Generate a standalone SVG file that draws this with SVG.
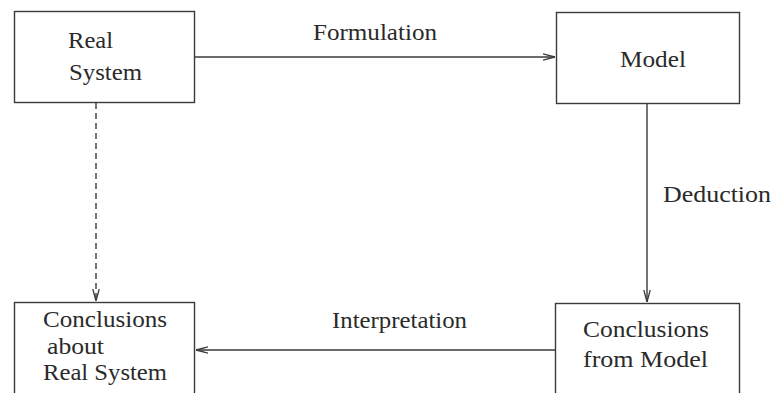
<svg xmlns="http://www.w3.org/2000/svg" width="775" height="393" viewBox="0 0 775 393">
<defs>
<style>
.box{fill:none;stroke:#3a3a3a;stroke-width:1.4}
.ln{fill:none;stroke:#3a3a3a;stroke-width:1.4}
.dash{stroke-dasharray:6 4}
text{font-family:'Liberation Serif','Times New Roman',serif;font-size:24px;fill:#2a2a2a}
</style>
<marker id="ah" viewBox="0 0 12 8" refX="12" refY="4" markerWidth="12" markerHeight="8" markerUnits="userSpaceOnUse" orient="auto">
<path d="M0,0.8 L12,4 L0,7.2" fill="none" stroke="#3a3a3a" stroke-width="1.3"/>
</marker>
</defs>
<rect width="775" height="393" fill="#ffffff"/>
<g id="connectors">
<line class="ln" x1="195" y1="57" x2="555" y2="57" marker-end="url(#ah)"/>
<line class="ln" x1="647" y1="103" x2="647" y2="302" marker-end="url(#ah)"/>
<line class="ln" x1="555" y1="350" x2="196" y2="350" marker-end="url(#ah)"/>
<line class="ln dash" x1="96" y1="103" x2="96" y2="301" marker-end="url(#ah)"/>
<text x="313" y="40" textLength="124" lengthAdjust="spacingAndGlyphs">Formulation</text>
<text x="663" y="202" textLength="108" lengthAdjust="spacingAndGlyphs">Deduction</text>
<text x="332" y="328" textLength="135" lengthAdjust="spacingAndGlyphs">Interpretation</text>
</g>
<g id="real-system">
<rect class="box" x="14.5" y="11.5" width="180" height="91"/>
<text x="68" y="48" textLength="45" lengthAdjust="spacingAndGlyphs">Real</text>
<text x="69" y="80" textLength="73" lengthAdjust="spacingAndGlyphs">System</text>
</g>
<g id="model">
<rect class="box" x="556.5" y="12.5" width="183" height="91"/>
<text x="620" y="67" textLength="66" lengthAdjust="spacingAndGlyphs">Model</text>
</g>
<g id="conclusions-real">
<rect class="box" x="14.5" y="302.5" width="180" height="91.5"/>
<text x="43" y="327" textLength="124" lengthAdjust="spacingAndGlyphs">Conclusions</text>
<text x="47" y="354" textLength="57" lengthAdjust="spacingAndGlyphs">about</text>
<text x="43" y="380" textLength="124" lengthAdjust="spacingAndGlyphs">Real System</text>
</g>
<g id="conclusions-model">
<rect class="box" x="555.5" y="303.5" width="184" height="90.5"/>
<text x="583" y="337" textLength="126" lengthAdjust="spacingAndGlyphs">Conclusions</text>
<text x="583" y="367" textLength="125" lengthAdjust="spacingAndGlyphs">from Model</text>
</g>
</svg>
